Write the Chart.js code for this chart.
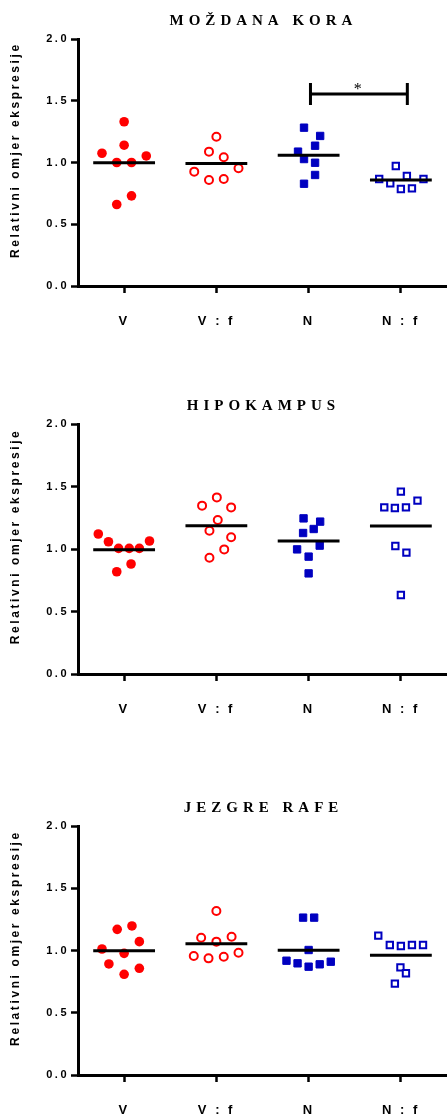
<!DOCTYPE html>
<html>
<head>
<meta charset="utf-8">
<script src="https://cdn.jsdelivr.net/npm/chart.js@4.4.0/dist/chart.umd.min.js"></script>
<style>
body { margin: 0; background: #fff; overflow: hidden; }
canvas { position: absolute; left: 0; }
</style>
</head>
<body>
<canvas id="chart_one" width="447" height="340" style="top:0px"></canvas>
<canvas id="chart_two" width="447" height="343" style="top:385px"></canvas>
<canvas id="chart_three" width="447" height="328" style="top:787px"></canvas>
<script>
let groupLabels = ["V", "V : f", "N", "N : f"];
let yTicks = [0, 0.5, 1.0, 1.5, 2.0];
let yTitle = "Relativni omjer ekspresije";
let panelTitles = ["MOŽDANA KORA", "HIPOKAMPUS", "JEZGRE RAFE"];

// moždana kora
let koraV  = [1.33, 1.14, 1.075, 1.0, 1.0, 1.053, 0.66, 0.73];
let koraVf = [1.209, 1.088, 1.042, 0.926, 0.953, 0.858, 0.866];
let koraN  = [1.282, 1.215, 1.136, 1.088, 1.028, 0.998, 0.899, 0.828];
let koraNf = [0.972, 0.866, 0.831, 0.891, 0.866, 0.785, 0.791];
// spread of the points inside each column (category units)
let koraVJit  = [0, 0, -0.24, -0.08, 0.08, 0.24, -0.08, 0.08];
let koraVfJit = [0, -0.08, 0.08, -0.24, 0.24, -0.08, 0.08];
let koraNJit  = [-0.05, 0.125, 0.07, -0.115, -0.05, 0.07, 0.07, -0.05];
let koraNfJit = [-0.055, -0.235, -0.115, 0.065, 0.245, 0, 0.12];
let koraSig = {from: 2.02, to: 3.07, y: 1.555, label: "*"};

// hipokampus
let hipoV  = [1.12, 1.058, 1.005, 1.005, 1.005, 1.064, 0.818, 0.88];
let hipoVf = [1.413, 1.347, 1.333, 1.232, 1.146, 1.094, 0.997, 0.93];
let hipoN  = [1.245, 1.219, 1.16, 1.128, 1.027, 0.997, 0.939, 0.805];
let hipoNf = [1.459, 1.387, 1.333, 1.328, 1.333, 1.024, 0.971, 0.632];
let hipoVJit  = [-0.28, -0.17, -0.06, 0.055, 0.165, 0.275, -0.08, 0.075];
let hipoVfJit = [0.005, -0.155, 0.16, 0.015, -0.075, 0.16, 0.085, -0.075];
let hipoNJit  = [-0.055, 0.125, 0.055, -0.06, 0.12, -0.125, 0, 0];
let hipoNfJit = [0, 0.18, -0.18, -0.065, 0.055, -0.06, 0.06, 0];

// jezgre rafe
let rafeV  = [1.17, 1.197, 1.071, 1.012, 0.977, 0.892, 0.857, 0.809];
let rafeVf = [1.317, 1.103, 1.071, 1.111, 0.956, 0.937, 0.95, 0.982];
let rafeN  = [1.264, 1.264, 1.004, 0.918, 0.897, 0.87, 0.889, 0.91];
let rafeNf = [1.119, 1.044, 1.036, 1.044, 1.044, 0.864, 0.817, 0.734];
let rafeVJit  = [-0.075, 0.085, 0.165, -0.24, 0, -0.165, 0.165, 0];
let rafeVfJit = [0, -0.165, 0, 0.165, -0.245, -0.085, 0.08, 0.24];
let rafeNJit  = [-0.06, 0.06, 0, -0.24, -0.12, 0, 0.12, 0.24];
let rafeNfJit = [-0.245, -0.12, 0, 0.12, 0.24, -0.005, 0.055, -0.065];

let red = "#ff0000";
let blue = "#0000c0";

function mean(arr) {
    let s = 0;
    for (let i = 0; i < arr.length; i++) s += arr[i];
    return s / arr.length;
}

function toPoints(col, values, jit) {
    return values.map(function (v, i) { return {x: col + jit[i], y: v}; });
}

// titles, axis title and the significance bracket
let panelText = {
    id: "panelText",
    beforeUpdate: function (chart) { chart.ctx.letterSpacing = "2.5px"; },
    beforeDraw: function (chart) { chart.ctx.letterSpacing = "2.5px"; },
    afterDraw: function (chart, args, opts) {
        let ctx = chart.ctx;
        let area = chart.chartArea;
        ctx.save();
        ctx.fillStyle = "#000";
        ctx.textAlign = "center";
        ctx.textBaseline = "middle";

        ctx.font = "bold 15px 'Liberation Serif'";
        ctx.letterSpacing = "5px";
        ctx.fillText(opts.title, (area.left + area.right) / 2 + 1, area.top - 18);

        ctx.font = "bold 12px 'Liberation Sans'";
        ctx.letterSpacing = "2.6px";
        ctx.translate(16, area.top + (area.bottom - area.top) * 0.45);
        ctx.rotate(-Math.PI / 2);
        ctx.fillText(opts.yTitle, 0, 0);
        ctx.restore();

        if (opts.sig) {
            let xs = chart.scales.x, ys = chart.scales.y;
            let x1 = xs.getPixelForValue(opts.sig.from);
            let x2 = xs.getPixelForValue(opts.sig.to);
            let y = ys.getPixelForValue(opts.sig.y);
            ctx.save();
            ctx.strokeStyle = "#000";
            ctx.lineWidth = 3;
            ctx.beginPath();
            ctx.moveTo(x1, y); ctx.lineTo(x2, y);
            ctx.moveTo(x1, y - 11); ctx.lineTo(x1, y + 11);
            ctx.moveTo(x2, y - 11); ctx.lineTo(x2, y + 11);
            ctx.stroke();
            ctx.fillStyle = "#000";
            ctx.font = "16px 'Liberation Serif'";
            ctx.textAlign = "center";
            ctx.textBaseline = "middle";
            ctx.fillText(opts.sig.label, (x1 + x2) / 2, y - 4);
            ctx.restore();
        }
    }
};

function makePanel(id, title, groups, jits, axisHeight, sig) {
    let meanLine = [];
    groups.forEach(function (g, i) {
        let m = mean(g);
        meanLine.push({x: i - 0.335, y: m});
        meanLine.push({x: i + 0.335, y: m});
        meanLine.push({x: i + 0.5, y: null});
    });
    return new Chart(id, {
        type: "scatter",
        data: {
            datasets: [{
                type: "line",
                data: meanLine,
                borderColor: "#000",
                borderWidth: 3,
                pointRadius: 0,
                spanGaps: false
            }, {
                data: toPoints(0, groups[0], jits[0]),
                pointStyle: "circle",
                pointRadius: 4.8,
                pointBackgroundColor: red,
                pointBorderColor: red,
                pointBorderWidth: 0
            }, {
                data: toPoints(1, groups[1], jits[1]),
                pointStyle: "circle",
                pointRadius: 4,
                pointBackgroundColor: "#fff",
                pointBorderColor: red,
                pointBorderWidth: 2
            }, {
                data: toPoints(2, groups[2], jits[2]),
                pointStyle: "rect",
                pointRadius: 5.2,
                pointBackgroundColor: blue,
                pointBorderColor: blue,
                pointBorderWidth: 1
            }, {
                data: toPoints(3, groups[3], jits[3]),
                pointStyle: "rect",
                pointRadius: 4.5,
                pointBackgroundColor: "#fff",
                pointBorderColor: blue,
                pointBorderWidth: 2
            }]
        },
        options: {
            responsive: false,
            animation: false,
            layout: { autoPadding: false, padding: { top: 39, left: 0, right: 0, bottom: 0 } },
            plugins: {
                legend: { display: false },
                tooltip: { enabled: false },
                panelText: { title: title, yTitle: yTitle, sig: sig }
            },
            scales: {
                x: {
                    type: "linear",
                    min: -0.5,
                    max: 3.5,
                    afterBuildTicks: function (s) {
                        s.ticks = groupLabels.map(function (l, i) { return {value: i}; });
                    },
                    afterFit: function (s) {
                        s.height = axisHeight;
                        s.paddingLeft = 0;
                        s.paddingRight = 0;
                    },
                    ticks: {
                        callback: function (v) { return groupLabels[v]; },
                        font: { family: "'Liberation Sans'", size: 13, weight: "bold" },
                        color: "#000",
                        padding: 21,
                        maxRotation: 0
                    },
                    grid: { drawOnChartArea: false, drawTicks: true, tickLength: 7, tickWidth: 2.5, tickColor: "#000" },
                    border: { display: true, color: "#000", width: 3 }
                },
                y: {
                    min: 0,
                    max: 2,
                    afterBuildTicks: function (s) {
                        s.ticks = yTicks.map(function (v) { return {value: v}; });
                    },
                    afterFit: function (s) {
                        s.width = 78;
                        s.paddingTop = 0;
                        s.paddingBottom = 0;
                    },
                    ticks: {
                        callback: function (v) { return v.toFixed(1); },
                        font: { family: "'Liberation Sans'", size: 11, weight: "bold" },
                        color: "#000",
                        padding: 2
                    },
                    grid: { drawOnChartArea: false, drawTicks: true, tickLength: 7, tickWidth: 2.5, tickColor: "#000" },
                    border: { display: true, color: "#000", width: 3 }
                }
            }
        },
        plugins: [panelText]
    });
}

var ChartOne = makePanel("chart_one", panelTitles[0],
    [koraV, koraVf, koraN, koraNf], [koraVJit, koraVfJit, koraNJit, koraNfJit], 54, koraSig);
var ChartTwo = makePanel("chart_two", panelTitles[1],
    [hipoV, hipoVf, hipoN, hipoNf], [hipoVJit, hipoVfJit, hipoNJit, hipoNfJit], 54, null);
var ChartThree = makePanel("chart_three", panelTitles[2],
    [rafeV, rafeVf, rafeN, rafeNf], [rafeVJit, rafeVfJit, rafeNJit, rafeNfJit], 40, null);
</script>
</body>
</html>
